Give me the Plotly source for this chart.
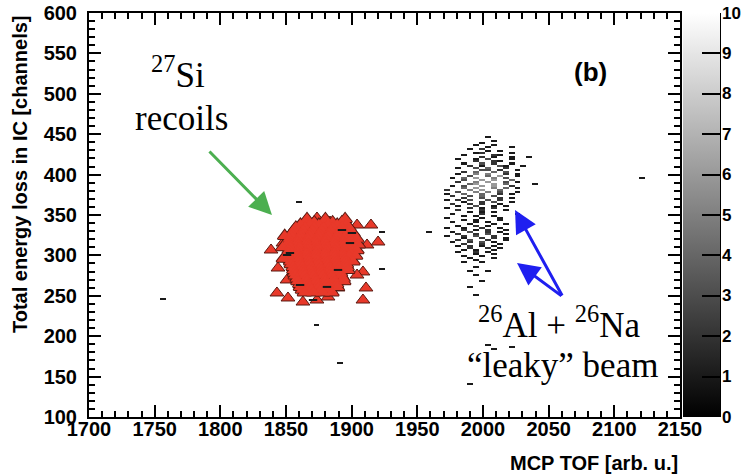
import plotly.graph_objects as go
import math

# ---------------- data ----------------
# 2D histogram binning (TH2: 100 x-bins over 1700-2150, 200 y-bins over 100-600)
x_lo, x_bin, n_xbins = 1700.0, 4.5, 100
y_lo, y_bin, n_ybins = 100.0, 2.5, 200

# beam cluster ("leaky" beam), counts per bin read row by row from the top (bin j=138) down
cluster_col0 = 59
cluster_row_top = 138
cluster_rows = [
    "........1........",
    ".................",
    ".........1.......",
    ".......1.........",
    "......1..1.......",
    "........1...1....",
    ".....1.2.........",
    "........1.1......",
    "......12....1....",
    "....1....21......",
    ".......2.1..1..1.",
    "...1..1.3...1....",
    "......2..21......",
    "....1..3.2..1....",
    ".....2.1..31..1..",
    "...1..3.4..2.....",
    ".......33.2..1...",
    "....2.4..4.3.....",
    "...1..5.5..2.1...",
    ".....3..4.6..1...",
    "..1.4.6..5.3.....",
    "....3..6.6..4....",
    "...2..5.6..3.1...",
    ".....46..6.4....1",
    "..1.3..6.6..2....",
    "....4.6..5.4.1...",
    ".2...5.6..4......",
    "...3..5.5.3..1...",
    ".1..4..4..2.1....",
    "..2..3.4.3.......",
    "....2..3..2.1....",
    ".1.2.3..3.2......",
    "....1..2.3..1....",
    "..2..2.2..1......",
    "...1..3..1.1.....",
    ".1...2.1.2.......",
    "...2...2...1.....",
    ".....1.1.1.......",
    "..1....2.....1...",
    "....1.1..1.......",
    ".1.....1..1......",
    "....1.1...1......",
    "..1...1.1........",
    ".....1...1.1.....",
    "...1..2.1........",
    ".1..1..2..1......",
    "....2.1.2..1.....",
    "..1..3..2.1......",
    "...2..2.3..1.....",
    ".1..2.3..2.......",
    "....1..2.2.1.....",
    "...2.3..2..1.....",
    "..1..2.3.1.......",
    "....2..2..1......",
    "...1.2.1.1.......",
    ".....2..2.1......",
    "....1.1..1.......",
    "...1..2.1........",
    "......1..1.......",
    "....1..1.........",
    ".....1...1.......",
    "......1..........",
    "....1..1.........",
    ".................",
    "......1..........",
    ".................",
    ".....1..1........",
    ".................",
    "......1..........",
    ".................",
    ".................",
    ".......1.........",
    ".................",
    ".................",
    ".....1...........",
    ".................",
    ".................",
    ".................",
    "......1..........",
]

# isolated single-count bins elsewhere
iso_x = [1757, 1859, 1958, 1892, 1874, 2122, 2004, 2006, 1992, 2023, 1924, 1924]
iso_y = [245, 366, 329, 166, 213, 396, 189, 183, 140, 187, 329, 284]
iso_n = [1, 1, 1, 1, 1, 1, 1, 1, 1, 1, 1, 1]

# 27Si recoils (red triangles): dense core, listed row by row (row y, event x values)
si_rows_y = [345, 341, 338, 334.5, 331, 327.5, 324, 320.5, 317, 313.5, 310, 306.5, 303,
             299.5, 296, 292.5, 289, 285.5, 282, 278.5, 275, 271.5, 268, 264.5, 261,
             257.5, 254]
si_rows_x = [
    [1866, 1880, 1895],
    [1864.5, 1871.5, 1878.5, 1885.5, 1892.5],
    [1861, 1868, 1875, 1882, 1889, 1896],
    [1857.5, 1864.5, 1871.5, 1878.5, 1885.5, 1892.5, 1898],
    [1856, 1863, 1870, 1877, 1884, 1891, 1898],
    [1854.5, 1861.5, 1868.5, 1875.5, 1882.5, 1889.5, 1896.5, 1901],
    [1849, 1854, 1861, 1868, 1875, 1882, 1889, 1896, 1900],
    [1852.5, 1859.5, 1866.5, 1873.5, 1880.5, 1887.5, 1894.5, 1900, 1904],
    [1852, 1859, 1866, 1873, 1880, 1887, 1894, 1900],
    [1852.5, 1859.5, 1866.5, 1873.5, 1880.5, 1887.5, 1894.5, 1900.5, 1905],
    [1847.5, 1853, 1860, 1867, 1874, 1881, 1888, 1895, 1900],
    [1852.5, 1859.5, 1866.5, 1873.5, 1880.5, 1887.5, 1894.5, 1899.5, 1904],
    [1852, 1859, 1866, 1873, 1880, 1887, 1894, 1899],
    [1852.5, 1859.5, 1866.5, 1873.5, 1880.5, 1887.5, 1894.5, 1898, 1903],
    [1848, 1853, 1860, 1867, 1874, 1881, 1888, 1895],
    [1853.5, 1860.5, 1867.5, 1874.5, 1881.5, 1888.5, 1895.5, 1901],
    [1854, 1861, 1868, 1875, 1882, 1889, 1896],
    [1855.5, 1862.5, 1869.5, 1876.5, 1883.5, 1890.5, 1896.5],
    [1856, 1863, 1870, 1877, 1884, 1891, 1897],
    [1856.5, 1863.5, 1870.5, 1877.5, 1884.5, 1891.5],
    [1857, 1864, 1871, 1878, 1885, 1892],
    [1858.5, 1865.5, 1872.5, 1879.5, 1886.5, 1893.5],
    [1859, 1866, 1873, 1880, 1887, 1894],
    [1860.5, 1867.5, 1874.5, 1881.5, 1888.5],
    [1861, 1868, 1875, 1882, 1889],
    [1862.5, 1869.5, 1876.5, 1883.5],
    [1864, 1871, 1878, 1885],
]
# 27Si recoils: outlying events around the core
si_out_x = [1838.6, 1847.7, 1843.9, 1843.1, 1851.5, 1862.9, 1873.6, 1882.0, 1908.6, 1910.9,
            1908.6, 1904.1, 1911.7, 1920.1, 1914.7, 1904.1, 1893.4, 1883.5, 1873.6, 1889.6, 1850.8]
si_out_y = [306.7, 315.4, 284.4, 253.5, 247.3, 242.3, 244.8, 248.5, 244.8, 259.7,
            279.5, 275.7, 312.9, 316.6, 337.6, 337.6, 341.3, 341.3, 346.3, 259.7, 269.6]

# histogram bins visible on top of the red recoil blob
top_x = [1892.6, 1900.2, 1853.0, 1860.7, 1870.6, 1889.6, 1881.2, 1898.7, 1850.8]
top_y = [331.4, 327.7, 303.0, 263.4, 244.8, 282.0, 261.0, 315.3, 300.5]

x_ticks = list(range(1700, 2151, 50))
y_ticks = list(range(100, 601, 50))
z_ticks = list(range(0, 11))
z_min, z_max = 0, 10

# ---------------- build histogram grid ----------------
z = [[None] * n_xbins for _ in range(n_ybins)]
for r, row in enumerate(cluster_rows):
    j = cluster_row_top - r
    for c, ch in enumerate(row):
        if ch.isdigit():
            z[j][cluster_col0 + c] = int(ch)
for xv, yv, n in zip(iso_x, iso_y, iso_n):
    i = int(math.floor((xv - x_lo) / x_bin))
    j = int(math.floor((yv - y_lo) / y_bin))
    z[j][i] = n

si_x, si_y = [], []
for yv, xs in zip(si_rows_y, si_rows_x):
    si_x.extend(xs)
    si_y.extend([yv] * len(xs))

# ---------------- layout geometry ----------------
W, H = 744, 476
L, R, T, B = 89, 64, 13, 59
pw, ph = W - L - R, H - T - B


def px_x(p):
    return (p - L) / pw


def px_y(p):
    return (H - B - p) / ph


bold = dict(family="Liberation Sans, Arial, Helvetica", size=20, color="black", weight="bold")
serif = dict(family="Liberation Serif, Times New Roman, serif", size=35, color="black")
red = "#e8392a"
edge = "#5a1a12"

fig = go.Figure()

fig.add_trace(go.Heatmap(
    z=z, x0=x_lo + x_bin / 2, dx=x_bin, y0=y_lo + y_bin / 2, dy=y_bin,
    zmin=z_min, zmax=z_max, colorscale=[[0, "#000000"], [1, "#ffffff"]],
    hoverongaps=False,
    colorbar=dict(
        x=px_x(683), xanchor="left", xpad=0, ypad=0,
        y=0.5, yanchor="middle", len=1, lenmode="fraction",
        thickness=37, thicknessmode="pixels", outlinewidth=0,
        ticks="inside", ticklen=18, tickwidth=2, tickcolor="black",
        tickvals=z_ticks, showticklabels=False,
    ),
))

# outliers (full outline)
fig.add_trace(go.Scatter(
    x=si_out_x, y=si_out_y, mode="markers",
    marker=dict(symbol="triangle-up", size=12, color=red,
                line=dict(color=edge, width=1)),
    hoverinfo="skip",
))
# core: outlined pass, then a fill-only pass so only the perimeter keeps an edge
fig.add_trace(go.Scatter(
    x=si_x, y=si_y, mode="markers",
    marker=dict(symbol="triangle-up", size=12, color=red,
                line=dict(color=edge, width=2)),
    hoverinfo="skip",
))
fig.add_trace(go.Scatter(
    x=si_x, y=si_y, mode="markers",
    marker=dict(symbol="triangle-up", size=12, color=red,
                line=dict(color=red, width=0)),
    hoverinfo="skip",
))

fig.add_trace(go.Scatter(
    x=top_x, y=top_y, mode="markers",
    marker=dict(symbol="line-ew", size=6, color="#1a1a1a",
                line=dict(color="#1a1a1a", width=2)),
    hoverinfo="skip",
))

axis_common = dict(
    showline=True, linewidth=2, linecolor="black", mirror="allticks",
    ticks="inside", ticklen=12, tickwidth=2, tickcolor="black",
    showgrid=False, zeroline=False, tickfont=bold,
)

fig.update_xaxes(range=[1700, 2150], tickvals=x_ticks, ticklabelstandoff=-7,
                 minor=dict(dtick=10, ticks="inside", ticklen=6, tickwidth=1.5,
                            tickcolor="black", showgrid=False),
                 **axis_common)
fig.update_yaxes(range=[100, 600], tickvals=y_ticks, ticklabelstandoff=6,
                 minor=dict(dtick=10, ticks="inside", ticklen=6, tickwidth=1.5,
                            tickcolor="black", showgrid=False),
                 **axis_common)

annotations = [
    dict(text="MCP TOF [arb. u.]", xref="paper", yref="paper", x=1.0, y=px_y(463),
         xanchor="right", yanchor="middle", showarrow=False, font=bold),
    dict(text="Total energy loss in IC [channels]", xref="paper", yref="paper",
         x=px_x(20), y=px_y(175), xanchor="center", yanchor="middle",
         textangle=-90, showarrow=False, font=bold),
    dict(text="(b)", xref="paper", yref="paper", x=px_x(590), y=px_y(72),
         xanchor="center", yanchor="middle", showarrow=False,
         font=dict(bold, size=26)),
    dict(text="<sup>27</sup>Si", xref="paper", yref="paper", x=px_x(178), y=px_y(72),
         xanchor="center", yanchor="middle", showarrow=False, font=serif),
    dict(text="recoils", xref="paper", yref="paper", x=px_x(181), y=px_y(118),
         xanchor="center", yanchor="middle", showarrow=False, font=serif),
    dict(text="<sup>26</sup>Al + <sup>26</sup>Na", xref="paper", yref="paper",
         x=px_x(559), y=px_y(322), xanchor="center", yanchor="middle",
         showarrow=False, font=serif),
    dict(text="\u201cleaky\u201d beam", xref="paper", yref="paper",
         x=px_x(562), y=px_y(365), xanchor="center", yanchor="middle",
         showarrow=False, font=serif),
    # arrows
    dict(text="", x=1839.3, y=350, ax=1790.6, ay=430.5, xref="x", yref="y",
         axref="x", ayref="y", showarrow=True, arrowhead=2, arrowsize=1.5,
         arrowwidth=3, arrowcolor="#4caf50"),
    dict(text="", x=2024.4, y=356.2, ax=2060.9, ay=248.5, xref="x", yref="y",
         axref="x", ayref="y", showarrow=True, arrowhead=2, arrowsize=1.5,
         arrowwidth=3, arrowcolor="#1f1ff0"),
    dict(text="", x=2025.9, y=290.6, ax=2060.9, ay=248.5, xref="x", yref="y",
         axref="x", ayref="y", showarrow=True, arrowhead=2, arrowsize=1.5,
         arrowwidth=3, arrowcolor="#1f1ff0"),
]

# colour-bar tick labels, placed just right of the bar
for v in z_ticks:
    annotations.append(dict(
        text=str(v), xref="paper", yref="paper",
        x=px_x(720), y=(v - z_min) / (z_max - z_min),
        xanchor="left", yanchor="middle", showarrow=False,
        font=dict(bold, size=17),
    ))

fig.update_layout(
    width=W, height=H,
    margin=dict(l=L, r=R, t=T, b=B, pad=0, autoexpand=False),
    paper_bgcolor="white", plot_bgcolor="white",
    showlegend=False,
    annotations=annotations,
    shapes=[dict(type="line", xref="paper", yref="paper",
                 x0=px_x(720), x1=px_x(720), y0=0, y1=1,
                 line=dict(color="black", width=2))],
)

fig.write_html("out.html")
